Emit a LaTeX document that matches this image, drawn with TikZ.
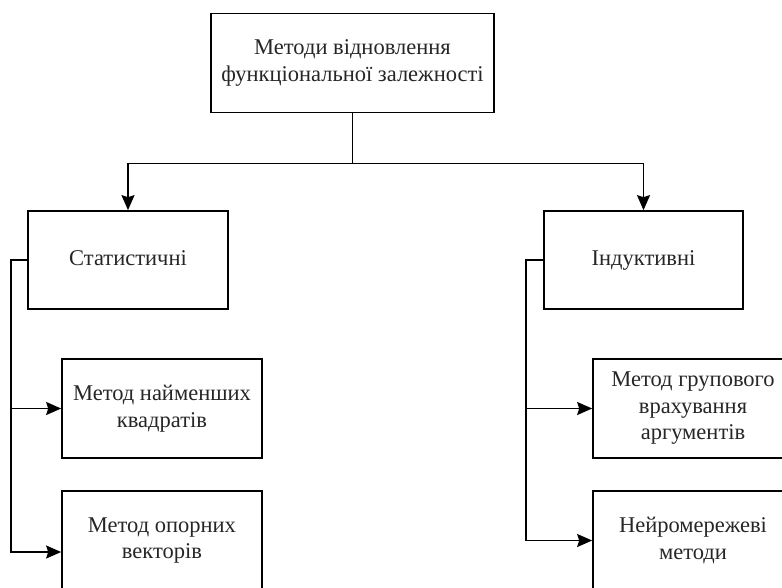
\documentclass[tikz,border=0pt]{standalone}
\usepackage{fontspec}
\setmainfont{Liberation Serif}
\usetikzlibrary{arrows.meta}
\begin{document}
\begin{tikzpicture}[x=1pt,y=-1pt,
  box/.style={draw, line width=1.7pt, align=center, inner sep=2pt,
    font=\fontsize{22.5}{26.5}\selectfont, text=black!85},
  link/.style={line width=1.7pt},
  arr/.style={link, -{Stealth[length=15pt,width=13pt,inset=2pt]}}]
\useasboundingbox (0,0) rectangle (782,587);
\clip (0,0) rectangle (782,587);

% root of the classification
\node[box, minimum width=283pt, minimum height=99pt] (root) at (352.5,63)
  {Методи відновлення\\функціональної залежності};

% two families of methods
\node[box, minimum width=200pt, minimum height=98pt, text depth=3pt] (stat) at (128,260) {Статистичні};
\node[box, minimum width=199pt, minimum height=98pt, text depth=3pt] (ind) at (643.5,260) {Індуктивні};

% statistical methods
\node[box, minimum width=200pt, minimum height=99pt] (ols) at (162,408.5)
  {Метод найменших\\квадратів};
\node[box, minimum width=200pt, minimum height=99pt] (svm) at (162,540.5)
  {Метод опорних\\векторів};

% inductive methods
\node[box, minimum width=200pt, minimum height=99pt] (gmdh) at (693,408.5)
  {Метод групового\\врахування\\аргументів};
\node[box, minimum width=200pt, minimum height=99pt] (nn) at (693,540.5)
  {Нейромережеві\\методи};

% root to families
\draw[link] (root.south) -- ++(0,50) coordinate (fork);
\draw[arr] (fork) -| (stat.north);
\draw[arr] (fork) -| (ind.north);

% statistical branch
\draw[arr] (stat.west) -- ++(-16,0) |- (ols.west);
\draw[arr] (stat.west) -- ++(-16,0) |- ([yshift=-11.5pt]svm.west);

% inductive branch
\draw[arr] (ind.west) -- ++(-17,0) |- (gmdh.west);
\draw[arr] (ind.west) -- ++(-17,0) |- (nn.west);
\end{tikzpicture}
\end{document}
